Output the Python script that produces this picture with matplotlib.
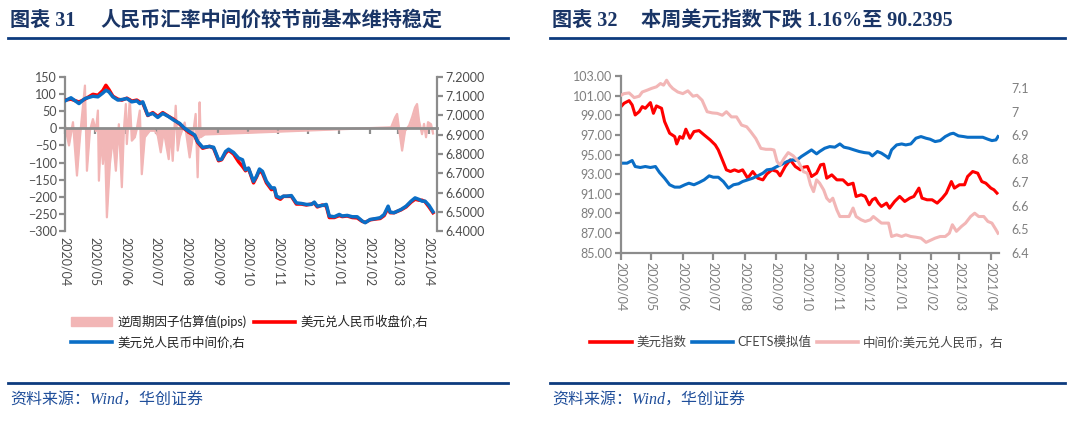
import pandas as pd
import matplotlib
matplotlib.use("Agg")
import matplotlib.pyplot as plt
import matplotlib.dates as mdates
from matplotlib.patches import Patch
from matplotlib.lines import Line2D
from matplotlib.ticker import MultipleLocator, FuncFormatter

plt.rcParams['font.family'] = ['Lato', 'Noto Sans CJK SC', 'DejaVu Sans']

start = pd.Timestamp("2020-04-01")
end = pd.Timestamp("2021-04-09")

# ---- chart 31: days counted from 2020-04-01 ----
ccf_day = [0, 4, 8, 12, 15, 20, 22, 25, 28, 31, 33, 34, 36, 38, 40, 42, 45, 48, 51, 54,
           57, 59, 61, 62, 65, 67, 70, 72, 75, 77, 80, 85, 90, 93, 96, 99, 104, 106, 108, 111,
           113, 115, 120, 125, 128, 131, 133, 135, 136, 140,
           327, 331, 333, 335, 338, 341, 345, 348, 351, 353, 355, 358, 360, 362, 364, 367, 369]
ccf_pips = [8, -50, 18, -138, -26, 125, -124, -7, 27, -8, 52, -153, -26, -104, -26, -260, -104, -26, -124, 12,
            -172, -7, 71, -46, 86, -36, -26, -2, 52, -134, -26, -7, -7, -21, -70, -7, -90, -7, -95, 66,
            -65, -26, 17, -85, -26, 42, -143, 76, -26, -18,
            3, 32, 42, -2, -65, -7, 8, 32, 61, 71, 22, -17, 13, -26, 18, 12, -15]

rate_day = [0, 6, 14, 20, 28, 33, 38, 41, 44, 48, 53, 57, 62, 67, 72, 75, 78, 83, 88, 93,
            98, 104, 109, 115, 120, 125, 130, 133, 138, 145, 149, 154, 157, 161, 164, 169, 174, 178, 181, 184,
            189, 192, 195, 198, 202, 207, 210, 212, 216, 219, 222, 227, 232, 237, 242, 247, 250, 253, 258, 262,
            265, 270, 275, 278, 283, 288, 293, 298, 301, 306, 311, 316, 320, 324, 326, 330, 337, 342, 347, 351,
            355, 358, 361, 365, 369]
mid_rate = [7.076, 7.092, 7.062, 7.088, 7.100, 7.097, 7.117, 7.131, 7.123, 7.097, 7.080, 7.083, 7.088, 7.071, 7.076, 7.062, 7.071, 7.002, 7.011, 6.990,
            7.011, 6.994, 6.976, 6.959, 6.933, 6.916, 6.899, 6.865, 6.835, 6.839, 6.835, 6.770, 6.773, 6.813, 6.825, 6.808, 6.779, 6.770, 6.718, 6.727,
            6.658, 6.684, 6.722, 6.710, 6.658, 6.624, 6.624, 6.581, 6.572, 6.581, 6.581, 6.584, 6.546, 6.543, 6.538, 6.538, 6.550, 6.529, 6.533, 6.538,
            6.478, 6.474, 6.486, 6.478, 6.481, 6.474, 6.474, 6.452, 6.443, 6.460, 6.464, 6.469, 6.486, 6.529, 6.498, 6.495, 6.512, 6.529, 6.555, 6.572,
            6.564, 6.555, 6.555, 6.533, 6.500]
close_rate = [7.080, 7.085, 7.070, 7.085, 7.110, 7.105, 7.130, 7.157, 7.135, 7.100, 7.085, 7.080, 7.090, 7.075, 7.080, 7.070, 7.065, 7.000, 7.015, 6.995,
              7.015, 6.995, 6.980, 6.955, 6.930, 6.910, 6.895, 6.860, 6.830, 6.840, 6.830, 6.765, 6.770, 6.805, 6.820, 6.800, 6.760, 6.735, 6.713, 6.725,
              6.650, 6.680, 6.715, 6.700, 6.650, 6.615, 6.620, 6.575, 6.565, 6.580, 6.580, 6.580, 6.540, 6.540, 6.535, 6.540, 6.545, 6.525, 6.535, 6.530,
              6.470, 6.470, 6.480, 6.475, 6.478, 6.470, 6.468, 6.450, 6.445, 6.458, 6.462, 6.465, 6.480, 6.520, 6.495, 6.495, 6.510, 6.525, 6.550, 6.565,
              6.560, 6.560, 6.552, 6.525, 6.495]

# ---- chart 32 ----
dxy_day = [0, 3, 8, 11, 14, 18, 21, 24, 29, 32, 35, 40, 43, 48, 53, 55, 58, 61, 64, 68,
           72, 77, 82, 88, 93, 96, 100, 104, 108, 112, 116, 120, 125, 130, 135, 140, 144, 149, 154, 157,
           162, 167, 172, 177, 180, 184, 188, 193, 197, 200, 203, 208, 213, 219, 224, 229, 232, 237, 241, 245,
           248, 251, 254, 257, 262, 265, 270, 275, 280, 285, 289, 294, 297, 302, 307, 312, 317, 321, 326, 329,
           334, 339, 342, 347, 352, 356, 360, 365, 368, 371]
dxy = [99.88, 100.22, 100.49, 100.05, 99.03, 99.37, 99.88, 99.71, 100.29, 99.20, 99.95, 99.71, 98.36, 97.17, 96.83, 96.08, 96.83, 96.66, 97.58, 96.66,
       97.34, 97.44, 97.00, 96.49, 95.98, 95.47, 94.46, 93.44, 93.27, 93.44, 93.27, 93.44, 92.59, 93.27, 92.59, 92.42, 93.03, 93.44, 93.27, 92.83,
       93.78, 94.46, 93.78, 93.44, 93.71, 93.78, 92.76, 93.10, 93.95, 94.02, 92.59, 92.93, 92.42, 92.42, 91.92, 92.08, 90.73, 90.90, 90.73, 89.88,
       90.39, 90.56, 90.05, 89.71, 90.05, 89.54, 90.22, 90.73, 90.22, 90.56, 90.73, 91.58, 90.56, 90.39, 90.39, 90.05, 90.56, 91.07, 92.25, 91.58,
       91.92, 91.92, 92.76, 93.27, 93.10, 92.25, 92.08, 91.58, 91.41, 91.07]

cfets_day = [0, 6, 11, 14, 19, 24, 29, 34, 38, 43, 48, 53, 58, 63, 67, 72, 77, 82, 87, 91,
             96, 101, 106, 111, 116, 120, 125, 130, 135, 140, 144, 149, 154, 159, 164, 169, 173, 178, 184, 188,
             193, 196, 201, 206, 211, 216, 220, 225, 230, 235, 240, 245, 248, 253, 257, 262, 264, 267, 272, 277,
             281, 286, 291, 296, 301, 305, 310, 315, 320, 325, 328, 333, 338, 342, 347, 352, 357, 362, 366, 370,
             372]
cfets = [94.12, 94.12, 94.39, 93.78, 93.68, 93.78, 93.68, 93.78, 93.17, 92.59, 91.92, 91.68, 91.68, 91.92, 92.08, 91.92, 92.15, 92.42, 92.83, 92.69,
         92.69, 92.25, 91.58, 91.92, 92.02, 92.25, 92.42, 92.59, 92.83, 93.10, 93.44, 93.51, 93.78, 94.02, 94.29, 94.46, 94.39, 94.80, 95.20, 95.47,
         95.07, 95.31, 95.64, 95.81, 95.75, 96.08, 95.75, 95.64, 95.47, 95.31, 95.20, 95.14, 94.86, 95.31, 95.14, 94.80, 94.63, 95.47, 95.98, 96.08,
         95.98, 96.08, 96.66, 96.83, 96.66, 96.56, 96.32, 96.42, 96.83, 97.10, 97.17, 96.90, 96.83, 96.76, 96.76, 96.76, 96.76, 96.56, 96.42, 96.49,
         96.83]

usdcny_day = [0, 3, 8, 13, 18, 21, 26, 30, 35, 39, 42, 45, 48, 51, 56, 61, 66, 71, 75, 80,
              85, 90, 95, 100, 104, 109, 114, 119, 124, 128, 133, 138, 143, 148, 151, 154, 157, 161, 165, 170,
              175, 180, 184, 187, 190, 193, 196, 200, 203, 206, 209, 213, 216, 221, 225, 229, 232, 237, 241, 246,
              249, 253, 257, 262, 264, 267, 272, 277, 281, 286, 291, 296, 301, 305, 310, 315, 320, 324, 327, 331,
              336, 340, 345, 349, 353, 358, 362, 366, 370, 372]
usdcny = [7.070, 7.077, 7.080, 7.060, 7.066, 7.084, 7.092, 7.099, 7.106, 7.120, 7.113, 7.134, 7.113, 7.099, 7.084, 7.077, 7.089, 7.066, 7.070, 7.049,
          7.000, 6.995, 6.993, 6.985, 7.000, 6.978, 6.978, 6.943, 6.936, 6.915, 6.886, 6.844, 6.840, 6.840, 6.837, 6.788, 6.773, 6.802, 6.826, 6.812,
          6.788, 6.745, 6.738, 6.689, 6.660, 6.710, 6.696, 6.667, 6.632, 6.618, 6.632, 6.582, 6.554, 6.554, 6.554, 6.590, 6.554, 6.540, 6.533, 6.540,
          6.554, 6.540, 6.526, 6.526, 6.526, 6.469, 6.476, 6.469, 6.476, 6.469, 6.466, 6.462, 6.444, 6.452, 6.462, 6.469, 6.469, 6.483, 6.519, 6.491,
          6.512, 6.526, 6.554, 6.568, 6.554, 6.554, 6.533, 6.526, 6.498, 6.483]

dxy_ticks = [85, 87, 89, 91, 93, 95, 97, 99, 101, 103]
usdcny_ticks = [6.4, 6.5, 6.6, 6.7, 6.8, 6.9, 7.0, 7.1]

RED = "#FF0000"
BLUE = "#0A6EC6"
PINK = "#F2B6B6"
GRAY = "#8C8C8C"
TXT = "#4D4D4D"
NAVY = "#0D3B7E"


def to_dates(days):
    return start + pd.to_timedelta(days, unit="D")


W, H = 1070, 426
fig = plt.figure(figsize=(W / 100, H / 100), dpi=100)

# ---------------- left chart ----------------
ax = fig.add_axes([65 / W, 1 - 231 / H, 372 / W, 154 / H])
cd = to_dates(ccf_day)
ax.fill_between(cd, 0, ccf_pips, color=PINK, lw=0)
ax.plot(cd, ccf_pips, color=PINK, lw=1.6)
ax.set_ylim(-300, 150)
ax.yaxis.set_major_locator(MultipleLocator(50))
ax.set_xlim(start, end)

ax2 = ax.twinx()
rd = to_dates(rate_day)
ax2.plot(rd, close_rate, color=RED, lw=2.5)
ax2.plot(rd, mid_rate, color=BLUE, lw=2.5)
ax2.set_ylim(6.4, 7.2)
ax2.yaxis.set_major_locator(MultipleLocator(0.1))
ax2.yaxis.set_major_formatter(FuncFormatter(lambda v, p: f"{v:.4f}"))

for s in ["top", "right"]:
    ax.spines[s].set_visible(False)
for s in ["top", "left", "bottom"]:
    ax2.spines[s].set_visible(False)
ax.spines["left"].set_color(GRAY)
ax.spines["left"].set_linewidth(1.6)
ax.spines["bottom"].set_position(("data", 0))
ax.spines["bottom"].set_color(GRAY)
ax.spines["bottom"].set_linewidth(2)
ax2.spines["right"].set_color(GRAY)
ax2.spines["right"].set_linewidth(1.6)

ax.xaxis.set_major_locator(mdates.MonthLocator())
ax.tick_params(axis="x", labelbottom=False, length=4, width=1.6, color=GRAY)
ax.tick_params(axis="y", length=4, width=1.6, color=GRAY, labelcolor=TXT, labelsize=9, pad=2)
ax2.tick_params(axis="y", length=4, width=1.6, color=GRAY, labelcolor=TXT, labelsize=9, pad=2)

sec = ax.secondary_xaxis("bottom")
sec.xaxis.set_major_locator(mdates.MonthLocator())
sec.xaxis.set_major_formatter(mdates.DateFormatter("%Y/%m"))
sec.tick_params(length=0, labelrotation=270, labelsize=9, labelcolor=TXT, pad=4)
sec.spines["bottom"].set_visible(False)

h_left = [Patch(color=PINK), Line2D([], [], color=BLUE, lw=2.6), Line2D([], [], color=RED, lw=2.6)]
l_left = ["逆周期因子估算值(pips)", "美元兑人民币中间价,右", "美元兑人民币收盘价,右"]
fig.legend(h_left, l_left, ncol=2, loc="upper left", bbox_to_anchor=(66 / W, 1 - 310 / H),
           frameon=False, fontsize=9, handlelength=3.3, handletextpad=0.4, columnspacing=0.6,
           labelspacing=0.6, labelcolor="#222222", borderaxespad=0)

# ---------------- right chart ----------------
bx = fig.add_axes([621 / W, 1 - 252.7 / H, 378 / W, 176.7 / H])
bx.plot(to_dates(dxy_day), dxy, color=RED, lw=2.2)
bx.plot(to_dates(cfets_day), cfets, color=BLUE, lw=2.2)
bx.set_ylim(85, 103)
bx.set_yticks(dxy_ticks)
bx.yaxis.set_major_formatter(FuncFormatter(lambda v, p: f"{v:.2f}"))
bx.set_xlim(start, end)

bx2 = bx.twinx()
bx2.plot(to_dates(usdcny_day), usdcny, color=PINK, lw=2.2)
bx2.set_ylim(6.4, 7.152)
bx2.set_yticks(usdcny_ticks)
bx2.yaxis.set_major_formatter(FuncFormatter(lambda v, p: f"{round(v, 1):g}"))

for s in ["top", "right"]:
    bx.spines[s].set_visible(False)
for s in bx2.spines:
    bx2.spines[s].set_visible(False)
for s in ["left", "bottom"]:
    bx.spines[s].set_color(GRAY)
    bx.spines[s].set_linewidth(1.6)

bx.xaxis.set_major_locator(mdates.MonthLocator())
bx.xaxis.set_major_formatter(mdates.DateFormatter("%Y/%m"))
bx.tick_params(axis="x", length=5, width=1.6, color=GRAY, labelcolor="#7F7F7F", labelsize=9,
               labelrotation=270, pad=2)
bx.tick_params(axis="y", length=4, width=1.6, color=GRAY, labelcolor="#7F7F7F", labelsize=9, pad=2)
bx2.tick_params(axis="y", length=0, labelcolor="#7F7F7F", labelsize=9, pad=9)

h_right = [Line2D([], [], color=RED, lw=2.6), Line2D([], [], color=BLUE, lw=2.6),
           Line2D([], [], color=PINK, lw=2.6)]
l_right = ["美元指数", "CFETS模拟值", "中间价:美元兑人民币，右"]
fig.legend(h_right, l_right, ncol=3, loc="center", bbox_to_anchor=(797 / W, 1 - 342 / H),
           frameon=False, fontsize=9, handlelength=3.3, handletextpad=0.4, columnspacing=0.4,
           labelcolor="#444444", borderaxespad=0)

# ---------------- headers and footers ----------------
title_font = dict(family=["Liberation Serif", "Noto Sans CJK SC"], weight="bold", size=14.5,
                  color="#1A3566", va="center")
fig.text(10 / W, 1 - 21 / H, "图表 31", **title_font)
fig.text(100 / W, 1 - 21 / H, "人民币汇率中间价较节前基本维持稳定", **title_font)
fig.text(552 / W, 1 - 21 / H, "图表 32", **title_font)
fig.text(641 / W, 1 - 21 / H, "本周美元指数下跌 1.16%至 90.2395", **title_font)

for x0, x1 in [(8, 508), (550, 1065)]:
    for y in [38, 383]:
        fig.add_artist(Line2D([x0 / W, x1 / W], [1 - y / H, 1 - y / H], transform=fig.transFigure,
                              color=NAVY, lw=2))

src_font = dict(family=["Liberation Serif", "Noto Sans CJK SC"], style="italic", size=11.5,
                color="#1F4E9A", va="center")
fig.text(10 / W, 1 - 401 / H, "资料来源：Wind，华创证券", **src_font)
fig.text(552 / W, 1 - 401 / H, "资料来源：Wind，华创证券", **src_font)

fig.savefig("out.png", dpi=100)
